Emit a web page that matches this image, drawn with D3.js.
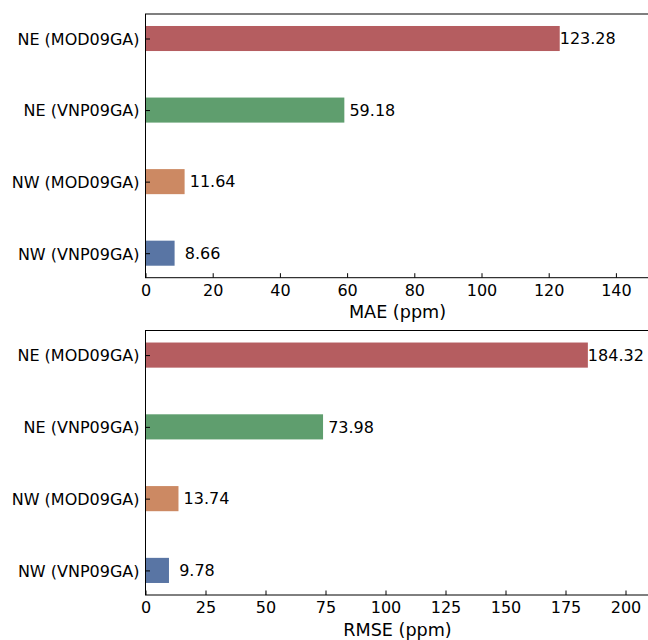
<!DOCTYPE html>
<html>
<head>
<meta charset="utf-8">
<script src="https://cdn.jsdelivr.net/npm/d3@7"></script>
<style>
  html, body { margin: 0; padding: 0; background: #fff; }
  svg { display: block; font-family: "DejaVu Sans", sans-serif; }
  .val { white-space: pre; }
</style>
</head>
<body>
<svg id="chart" width="648" height="640"></svg>
<script>
// Categories, bottom to top
const categories = ["NW (VNP09GA)", "NW (MOD09GA)", "NE (VNP09GA)", "NE (MOD09GA)"];
const barColors = ["#5975a4", "#cc8963", "#5f9e6e", "#b55d60"];

// Error metrics per category (ppm)
const maeValues = [8.66, 11.64, 59.18, 123.28];
const rmseValues = [9.78, 13.74, 73.98, 184.32];

// Axis ticks and limits
const maeTicks = [0, 20, 40, 60, 80, 100, 120, 140];
const rmseTicks = [0, 25, 50, 75, 100, 125, 150, 175, 200];
const maeMax = 150;
const rmseMax = 210;

const svg = d3.select("#chart");
const left = 145.5, right = 649.5;
const barH = 0.35;
const yPad = (3 + barH) * 0.05;
const yDomain = [-barH / 2 - yPad, 3 + barH / 2 + yPad];

function panel(values, ticks, xMax, top, bottom, label) {
  const g = svg.append("g");
  const x = d3.scaleLinear().domain([0, xMax]).range([left, right]);
  const y = d3.scaleLinear().domain(yDomain).range([bottom, top]);

  // bars
  g.selectAll("rect.bar").data(values).enter().append("rect")
    .attr("class", "bar")
    .attr("x", x(0))
    .attr("y", (d, i) => y(i + barH / 2))
    .attr("width", d => x(d) - x(0))
    .attr("height", (d, i) => y(i - barH / 2) - y(i + barH / 2))
    .attr("fill", (d, i) => barColors[i]);

  // value labels, padded to a fixed width
  g.selectAll("text.val").data(values).enter().append("text")
    .attr("class", "val")
    .attr("x", d => x(d))
    .attr("y", (d, i) => y(i) + 5.8)
    .attr("font-size", 16)
    .attr("fill", "#000")
    .text(d => d.toFixed(2).padStart(6, " "));

  // x axis, ticks pointing inward
  const xAxis = d3.axisBottom(x).tickValues(ticks).tickSize(-4.5).tickPadding(0).tickFormat(d3.format("d"));
  const ax = g.append("g").attr("transform", `translate(0,${bottom})`).call(xAxis);
  ax.select(".domain").remove();
  ax.selectAll(".tick line").attr("stroke", "#000").attr("stroke-width", 1);
  ax.selectAll(".tick text").attr("font-size", 16).attr("fill", "#000")
    .attr("font-family", "DejaVu Sans, sans-serif").attr("dy", null).attr("y", 18);

  // y axis, ticks pointing inward
  const yAxis = d3.axisLeft(y).tickValues([0, 1, 2, 3]).tickSize(-4.5).tickPadding(0)
    .tickFormat(i => categories[i]);
  const ay = g.append("g").attr("transform", `translate(${left},0)`).call(yAxis);
  ay.select(".domain").remove();
  ay.selectAll(".tick line").attr("stroke", "#000").attr("stroke-width", 1);
  ay.selectAll(".tick text").attr("font-size", 16).attr("fill", "#000")
    .attr("font-family", "DejaVu Sans, sans-serif").attr("dy", null)
    .attr("x", -6).attr("y", 5.8).attr("text-anchor", "end");

  // frame
  g.append("rect")
    .attr("x", left).attr("y", top)
    .attr("width", right - left).attr("height", bottom - top)
    .attr("fill", "none").attr("stroke", "#000").attr("stroke-width", 1);

  // axis title
  g.append("text")
    .attr("x", (left + right) / 2)
    .attr("y", bottom + 40.5)
    .attr("text-anchor", "middle")
    .attr("font-size", 17.6)
    .attr("fill", "#000")
    .text(label);
}

panel(maeValues, maeTicks, maeMax, 14, 277.7, "MAE (ppm)");
panel(rmseValues, rmseTicks, rmseMax, 330.5, 595, "RMSE (ppm)");
</script>
</body>
</html>
